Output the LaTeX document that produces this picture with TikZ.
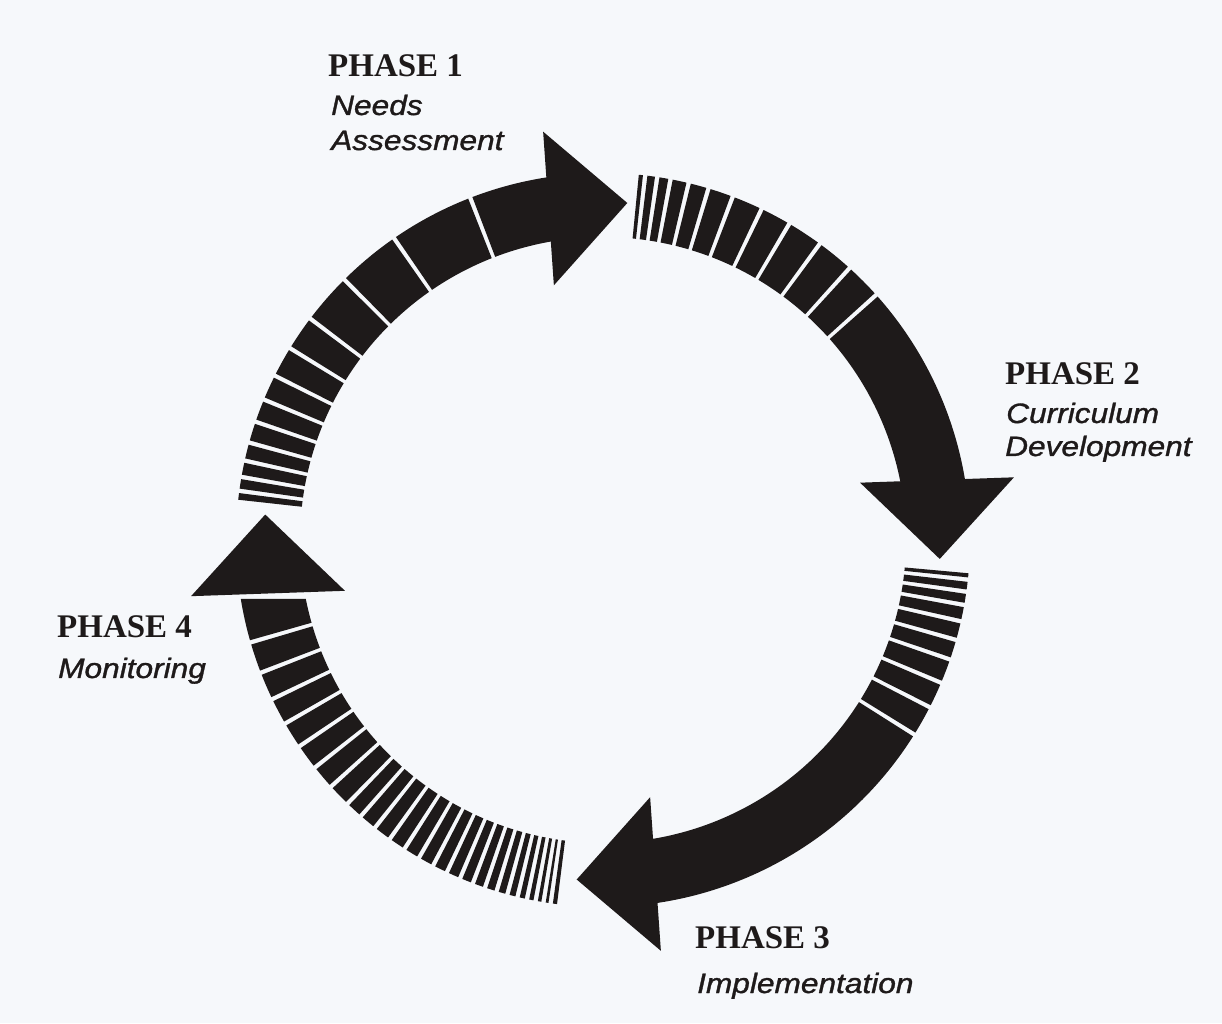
\documentclass[tikz,border=0pt]{standalone}
\usepackage{fontspec}
\usetikzlibrary{calc}
\newfontfamily\headfont{Liberation Serif}
\newfontfamily\subfont[FakeStretch=1.13,FakeBold=1.2]{Liberation Sans}
\definecolor{ink}{RGB}{30,26,26}
\definecolor{paper}{RGB}{246,248,251}
\newcommand\ringstripes[2]{%
  \foreach \angB [remember=\angB as \angA (initially #1)] in {#2} {%
    \pgfmathsetmacro\sa{\angA-0.35}%
    \pgfmathsetmacro\sb{\angB+0.35}%
    \fill[ink] ($(O)+(\sa:303pt)$) arc[start angle=\sa, end angle=\sb, radius=303pt]
      -- ($(O)+(\sb:367pt)$) arc[start angle=\sb, end angle=\sa, radius=367pt] -- cycle;
  }}
% arrowhead: base centre (#1), direction of the tip #2
\newcommand\ringhead[2]{%
  \fill[ink] ($(#1)+(#2+90:77pt)$) -- ($(#1)+(#2-90:77pt)$) -- ($(#1)+(#2:79pt)$) -- cycle;}
\tikzset{
  head/.style={font=\headfont\bfseries\fontsize{33}{36}\selectfont, text=ink, inner sep=0pt, anchor=base west},
  sub/.style={font=\subfont\itshape\fontsize{28}{32}\selectfont, text=ink, inner sep=0pt, anchor=base west}
}
\begin{document}
\begin{tikzpicture}[x=1pt,y=1pt]
\fill[paper] (0,0) rectangle (1222,1023);
\useasboundingbox (0,0) rectangle (1222,1023);
\coordinate (O) at (603,483);
\coordinate (h1) at (548.5,814.5);
\coordinate (h2) at (937,543);
\coordinate (h3) at (655.5,149);
\coordinate (h4) at (268,429.5);
% Phase 1 arc
\ringstripes{174.05}{172.3,170.1,167.5,164.6,161.2,157.5,153.4,148.5,142.9,134.8,124.7,111.2,97.5}
\ringhead{h1}{4}
% Phase 2 arc
\ringstripes{84.75}{83.4,81.5,79.4,76.5,73.3,69.3,64.4,59.5,53.8,47.8,41.9,8.5}
\ringhead{h2}{-88}
% Phase 3 arc
\ringstripes{-4.85}{-6.2,-8.1,-10.2,-12.8,-15.8,-19.0,-22.9,-27.1,-32.0,-83}
\ringhead{h3}{184}
% Phase 4 arc
\ringstripes{-96.85}{-98.2,-99.33,-100.58,-101.96,-103.47,-105.10,-106.86,-108.75,-110.76,-112.90,-115.17,-117.56,-120.08,-122.73,-125.50,-128.40,-131.25,-134.1,-137.8,-141.7,-145.8,-150.0,-154.3,-158.8,-163.8}
\fill[ink] ($(O)+(-164.15:303pt)$) arc[start angle=-164.15, end angle=-168.77, radius=303pt]
  -- ($(O)+(-170.75:367pt)$) arc[start angle=-170.75, end angle=-164.15, radius=367pt] -- cycle;
\ringhead{h4}{92}
% Labels
\node[head] (p1h) at (328,946) {PHASE 1};
\node[sub] (p1a) at (331,908) {Needs};
\node[sub] (p1b) at (331,873) {Assessment};
\node[head] (p2h) at (1005,638) {PHASE 2};
\node[sub] (p2a) at (1006,600) {Curriculum};
\node[sub] (p2b) at (1005,567) {Development};
\node[head] (p3h) at (695,75) {PHASE 3};
\node[sub] (p3a) at (697,30) {Implementation};
\node[head] (p4h) at (57,385) {PHASE 4};
\node[sub] (p4a) at (58,345) {Monitoring};
\end{tikzpicture}
\end{document}
